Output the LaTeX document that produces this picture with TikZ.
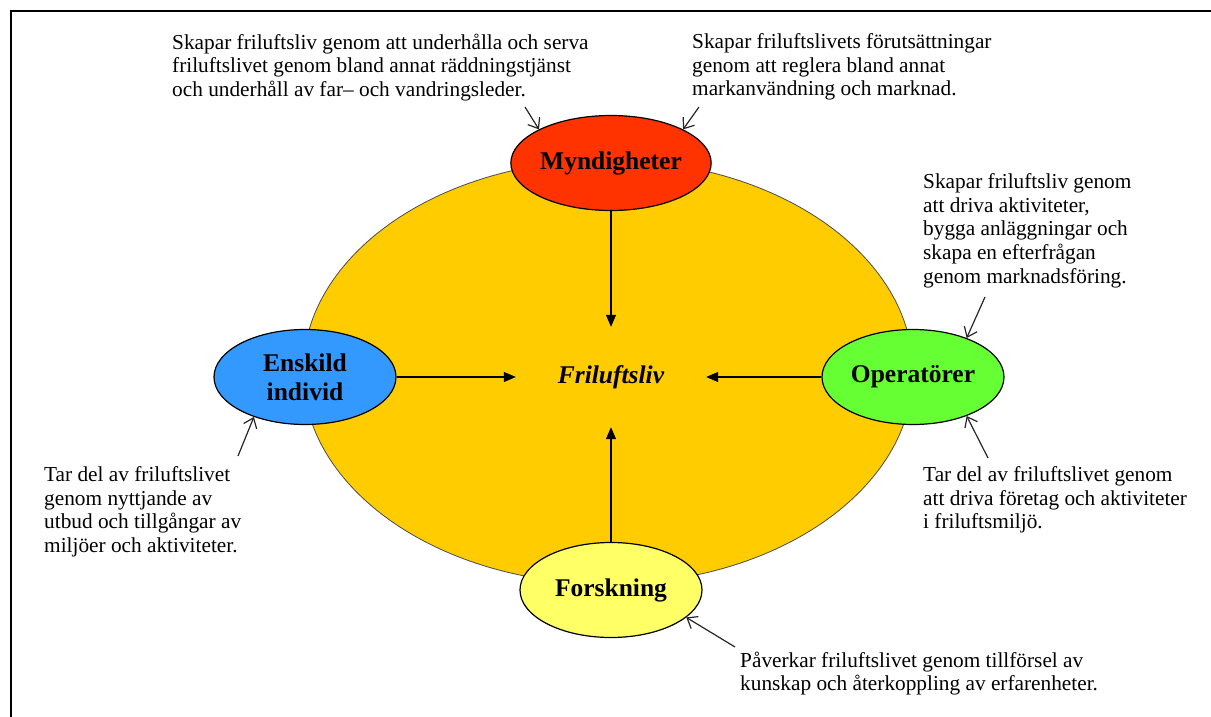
\documentclass[tikz,border=0pt]{standalone}
\usepackage{fontspec}
\setmainfont{Liberation Serif}
\usetikzlibrary{shapes}
\usetikzlibrary{arrows.meta}
\definecolor{ringfill}{RGB}{255,204,0}
\definecolor{myndfill}{RGB}{255,51,0}
\definecolor{enskfill}{RGB}{51,153,255}
\definecolor{operfill}{RGB}{102,255,51}
\definecolor{forskfill}{RGB}{255,255,102}
\tikzset{
	actor/.style = {ellipse, draw=black, line width=1.2pt, inner sep=0pt,
		minimum width=182pt, minimum height=95pt, align=center,
		font=\fontsize{25.5}{29}\selectfont\bfseries},% aktoer, ellips
	note/.style = {anchor=north west, align=left, inner sep=0pt,
		font=\fontsize{21.3}{23.6}\selectfont},% forklarande text
	flow/.style = {-{Triangle[length=12pt,width=10pt]}, line width=1.2pt},% pil mot mitten
	hint/.style = {-{Straight Barb[length=9pt,width=14pt]}, line width=1.2pt,
		black!85}% pil fran text
}

\begin{document}
\begin{tikzpicture}[x=1pt,y=-1pt]
	\useasboundingbox (0,0) rectangle (1211,717);
	\draw[line width=2pt] (11,717) -- (11,11) -- (1211,11);
	% stora ellipsen
	\node[ellipse, draw=black!70, line width=0.8pt, fill=ringfill,
		minimum width=610pt, minimum height=424pt] (ring) at (608,372) {};
	\node[inner sep=0pt, minimum width=190pt, minimum height=100pt,
		font=\fontsize{25.5}{29}\selectfont\bfseries\itshape] (fri) at (611,377) {Friluftsliv};
	% aktoerer
	\node[actor, fill=myndfill] (myn) at (611,163) {Myndigheter};
	\node[actor, fill=enskfill] (ens) at (305,377) {Enskild\\individ};
	\node[actor, fill=operfill] (ope) at (913,377) {Operatörer};
	\node[actor, fill=forskfill] (for) at (611,590) {Forskning};
	\draw[flow] (myn) -- (fri.north);
	\draw[flow] (ens) -- (fri.west);
	\draw[flow] (ope) -- (fri.east);
	\draw[flow] (for) -- (fri.south);
	% texter
	\node[note] (t_myn1) at (172,33.5) {Skapar friluftsliv genom att underhålla och serva\\
		friluftslivet genom bland annat räddningstjänst\\
		och underhåll av far– och vandringsleder.};
	\node[note] (t_myn2) at (692,33.5) {Skapar friluftslivets förutsättningar\\
		genom att reglera bland annat\\
		markanvändning och marknad.};
	\node[note] (t_ope1) at (923,173.5) {Skapar friluftsliv genom\\
		att driva aktiviteter,\\
		bygga anläggningar och\\
		skapa en efterfrågan\\
		genom marknadsföring.};
	\node[note] (t_ope2) at (923,466.5) {Tar del av friluftslivet genom\\
		att driva företag och aktiviteter\\
		i friluftsmiljö.};
	\node[note] (t_ens) at (44,466.5) {Tar del av friluftslivet\\
		genom nyttjande av\\
		utbud och tillgångar av\\
		miljöer och aktiviteter.};
	\node[note] (t_for) at (740,651.5) {Påverkar friluftslivet genom tillförsel av\\
		kunskap och återkoppling av erfarenheter.};
	% pilar fran texterna
	\coordinate (h_myn1) at (525,107);
	\coordinate (h_myn2) at (699,107);
	\coordinate (h_ope1) at (985,297);
	\coordinate (h_ope2) at (988,458);
	\coordinate (h_ens) at (238,456);
	\coordinate (h_for) at (735,647);
	\draw[hint] (h_myn1) -- (myn.155);
	\draw[hint] (h_myn2) -- (myn.25);
	\draw[hint] (h_ope1) -- (ope.36);
	\draw[hint] (h_ope2) -- (ope.-36);
	\draw[hint] (h_ens) -- (ens.218);
	\draw[hint] (h_for) -- (for.-20);
\end{tikzpicture}
\end{document}
